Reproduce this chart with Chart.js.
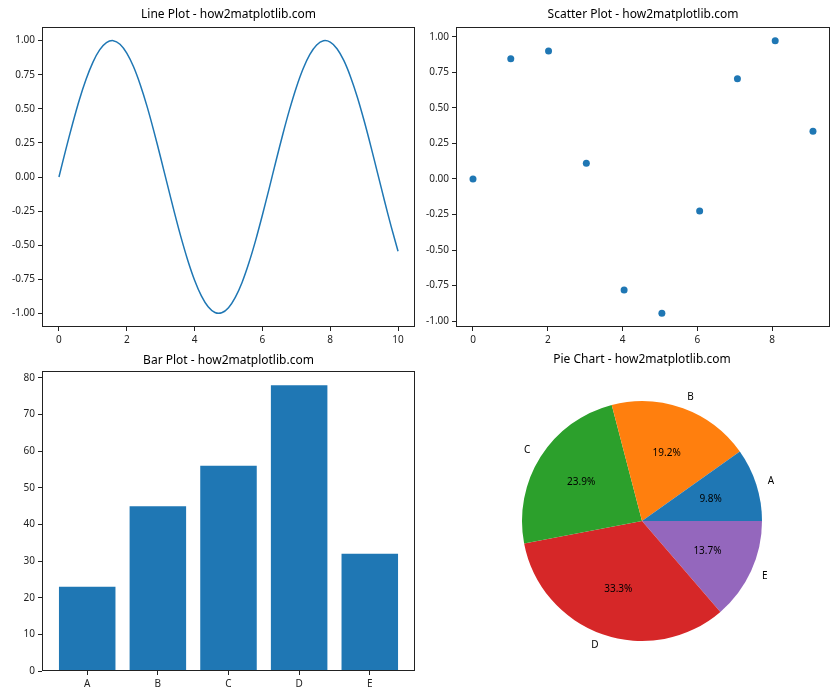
<!DOCTYPE html>
<html>
<head>
<meta charset="utf-8">
<script src="https://cdn.jsdelivr.net/npm/chart.js@4"></script>
<style>
  body { margin: 0; background: #fff; }
  #wrap { position: relative; width: 840px; height: 700px; }
  canvas { position: absolute; }
</style>
</head>
<body>
<div id="wrap">
  <canvas id="lineChart" width="420" height="350" style="left:0;top:0"></canvas>
  <canvas id="scatterChart" width="420" height="350" style="left:420px;top:0"></canvas>
  <canvas id="barChart" width="420" height="350" style="left:0;top:350px"></canvas>
  <canvas id="pieChart" width="420" height="350" style="left:420px;top:350px"></canvas>
</div>
<script>
// line plot (sin curve)
const lineX = [0, 0.2, 0.4, 0.6, 0.8, 1.0, 1.2, 1.4, 1.6, 1.8, 2.0, 2.2, 2.4, 2.6, 2.8, 3.0, 3.2, 3.4, 3.6, 3.8,
  4.0, 4.2, 4.4, 4.6, 4.8, 5.0, 5.2, 5.4, 5.6, 5.8, 6.0, 6.2, 6.4, 6.6, 6.8, 7.0, 7.2, 7.4, 7.6, 7.8,
  8.0, 8.2, 8.4, 8.6, 8.8, 9.0, 9.2, 9.4, 9.6, 9.8, 10.0];
const lineY = [0, 0.199, 0.389, 0.565, 0.717, 0.841, 0.932, 0.985, 1.000, 0.974, 0.909, 0.808, 0.675, 0.516, 0.335, 0.141,
  -0.058, -0.256, -0.443, -0.612, -0.757, -0.872, -0.952, -0.994, -0.996, -0.959, -0.883, -0.773, -0.631, -0.465,
  -0.279, -0.083, 0.117, 0.312, 0.494, 0.657, 0.794, 0.899, 0.968, 0.999, 0.989, 0.941, 0.855, 0.734, 0.585,
  0.412, 0.223, 0.025, -0.174, -0.366, -0.544];
const lineXTicks = [0, 2, 4, 6, 8, 10];
const sinYTicks = [-1, -0.75, -0.5, -0.25, 0, 0.25, 0.5, 0.75, 1];

// scatter plot
const scatterX = [0, 1.01, 2.02, 3.03, 4.04, 5.05, 6.06, 7.07, 8.08, 9.09];
const scatterY = [0, 0.847, 0.901, 0.111, -0.781, -0.946, -0.226, 0.706, 0.974, 0.336];
const scatterXTicks = [0, 2, 4, 6, 8];

// bar plot + pie
const categories = ['A', 'B', 'C', 'D', 'E'];
const barValues = [23, 45, 56, 78, 32];
const barYTicks = [0, 10, 20, 30, 40, 50, 60, 70, 80];
const pieColors = ['#1f77b4', '#ff7f0e', '#2ca02c', '#d62728', '#9467bd'];

const FONT = '"Noto Sans", "DejaVu Sans", sans-serif';
const BLUE = '#1f77b4';
const INK = '#222';

Chart.defaults.font.family = FONT;
Chart.defaults.color = INK;

// draws matplotlib-like title and the box around the axes
function frameAndTitle(title, titleY) {
    return {
        id: 'frameAndTitle',
        afterDraw(chart) {
            const ctx = chart.ctx;
            const a = chart.chartArea;
            ctx.save();
            if (chart.config.type !== 'pie') {
                ctx.strokeStyle = INK;
                ctx.lineWidth = 1;
                ctx.strokeRect(Math.round(a.left) + 0.5, Math.round(a.top) + 0.5,
                    Math.round(a.right - a.left) - 1, Math.round(a.bottom - a.top) - 1);
            }
            ctx.fillStyle = '#000';
            ctx.font = '12px ' + FONT;
            ctx.textAlign = 'center';
            ctx.textBaseline = 'middle';
            let cx = (a.left + a.right) / 2;
            ctx.fillText(title, cx, titleY);
            ctx.restore();
        }
    };
}

function fixedTicks(values) {
    return function (scale) {
        scale.ticks = values.map(v => ({ value: v }));
    };
}

function axis(min, max, tickValues, fmt, size, isY) {
    return {
        type: 'linear',
        min: min,
        max: max,
        offset: false,
        afterBuildTicks: fixedTicks(tickValues),
        afterFit: function (scale) {
            if (isY) scale.width = size; else scale.height = size;
        },
        border: { display: false },
        grid: {
            offset: false,
            drawOnChartArea: false,
            drawTicks: true,
            tickLength: 4,
            color: INK,
            lineWidth: 1
        },
        ticks: {
            autoSkip: false,
            maxRotation: 0,
            padding: 3,
            color: INK,
            font: { size: 10 },
            callback: fmt
        }
    };
}

const baseOptions = {
    responsive: false,
    animation: false,
    events: [],
    plugins: { legend: { display: false }, tooltip: { enabled: false }, title: { display: false } }
};

// Line plot
new Chart(document.getElementById('lineChart'), {
    type: 'line',
    data: {
        datasets: [{
            data: lineX.map((x, i) => ({ x: x, y: lineY[i] })),
            borderColor: BLUE,
            borderWidth: 1.5,
            pointRadius: 0,
            tension: 0.3,
            fill: false
        }]
    },
    options: Object.assign({}, baseOptions, {
        layout: { padding: { top: 27, left: 0, right: 5, bottom: 0 } },
        scales: {
            x: axis(-0.5, 10.5, lineXTicks, v => String(v), 23, false),
            y: axis(-1.1, 1.1, sinYTicks, v => v.toFixed(2), 42, true)
        }
    }),
    plugins: [frameAndTitle('Line Plot - how2matplotlib.com', 15)]
});

// Scatter plot
new Chart(document.getElementById('scatterChart'), {
    type: 'scatter',
    data: {
        datasets: [{
            data: scatterX.map((x, i) => ({ x: x, y: scatterY[i] })),
            backgroundColor: BLUE,
            borderWidth: 0,
            pointRadius: 3.5
        }]
    },
    options: Object.assign({}, baseOptions, {
        layout: { padding: { top: 27, left: 0, right: 10, bottom: 0 } },
        scales: {
            x: axis(-0.4545, 9.545, scatterXTicks, v => String(v), 23, false),
            y: axis(-1.042, 1.07, sinYTicks, v => v.toFixed(2), 36, true)
        }
    }),
    plugins: [frameAndTitle('Scatter Plot - how2matplotlib.com', 15)]
});

// Bar plot
new Chart(document.getElementById('barChart'), {
    type: 'bar',
    data: {
        datasets: [{
            data: barValues.map((v, i) => ({ x: i, y: v })),
            backgroundColor: BLUE,
            borderWidth: 0,
            categoryPercentage: 0.8,
            barPercentage: 1.0
        }]
    },
    options: Object.assign({}, baseOptions, {
        layout: { padding: { top: 21, left: 0, right: 5, bottom: 0 } },
        scales: {
            x: axis(-0.64, 4.64, [0, 1, 2, 3, 4], v => categories[v], 29, false),
            y: axis(0, 81.9, barYTicks, v => String(v), 42, true)
        }
    }),
    plugins: [frameAndTitle('Bar Plot - how2matplotlib.com', 11)]
});

// Pie chart: matplotlib goes counter-clockwise from 3 o'clock, so feed it reversed
const pieLabels = categories.slice().reverse();
const pieData = barValues.slice().reverse();
const pieTotal = barValues.reduce((a, b) => a + b, 0);

const pieText = {
    id: 'pieText',
    afterDraw(chart) {
        const ctx = chart.ctx;
        const meta = chart.getDatasetMeta(0);
        ctx.save();
        ctx.font = '10px ' + FONT;
        ctx.fillStyle = '#000';
        ctx.textBaseline = 'middle';
        meta.data.forEach((arc, i) => {
            const mid = (arc.startAngle + arc.endAngle) / 2;
            const r = arc.outerRadius;
            const cos = Math.cos(mid), sin = Math.sin(mid);
            // percent inside
            ctx.textAlign = 'center';
            const pct = (pieData[i] / pieTotal * 100).toFixed(1) + '%';
            ctx.fillText(pct, arc.x + cos * r * 0.6, arc.y + sin * r * 0.6);
            // label outside
            ctx.textAlign = cos >= 0 ? 'left' : 'right';
            ctx.fillText(pieLabels[i], arc.x + cos * r * 1.1, arc.y + sin * r * 1.1);
        });
        ctx.restore();
    }
};

new Chart(document.getElementById('pieChart'), {
    type: 'pie',
    data: {
        labels: pieLabels,
        datasets: [{
            data: pieData,
            backgroundColor: pieColors.slice().reverse(),
            borderWidth: 0
        }]
    },
    options: Object.assign({}, baseOptions, {
        rotation: 90,
        layout: { padding: { top: 51, left: 102, right: 78, bottom: 59 } }
    }),
    plugins: [pieText, frameAndTitle('Pie Chart - how2matplotlib.com', 10)]
});
</script>
</body>
</html>
